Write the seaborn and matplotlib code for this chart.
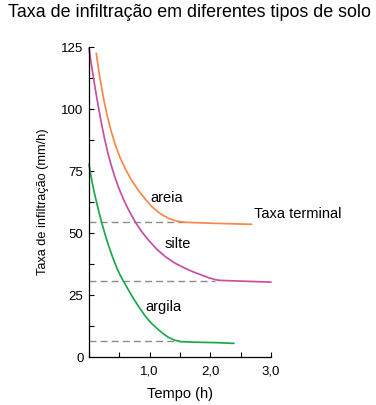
import pandas as pd
import seaborn as sns
import matplotlib.pyplot as plt
from matplotlib.ticker import MultipleLocator

# valores
areia_t = [0.12, 0.145, 0.17, 0.21, 0.255, 0.30, 0.36, 0.43, 0.51, 0.60, 0.70, 0.82, 0.93, 1.04,
           1.17, 1.31, 1.45, 1.59, 2.08, 2.68]
areia_v = [122.5, 118.1, 114.1, 108.2, 102.4, 97.3, 91.5, 85.8, 80.5, 75.8, 71.3, 67.0, 63.6, 60.5,
           57.9, 55.9, 54.8, 54.3, 53.9, 53.5]

silte_t = [0.0, 0.03, 0.063, 0.10, 0.145, 0.20, 0.255, 0.31, 0.36, 0.42, 0.48, 0.55, 0.62, 0.69,
           0.766, 0.87, 0.985, 1.12, 1.26, 1.42, 1.59, 1.73, 1.86, 1.97, 2.08, 2.15, 2.50, 3.0]
silte_v = [124.5, 119.4, 114.2, 108.6, 102.2, 94.9, 88.2, 82.4, 77.8, 73.0, 68.8, 64.6, 60.9, 57.6,
           54.3, 50.5, 47.0, 43.4, 40.4, 37.8, 35.7, 34.2, 33.0, 32.0, 31.2, 30.9, 30.6, 30.2]

argila_t = [0.0, 0.025, 0.053, 0.09, 0.135, 0.175, 0.217, 0.27, 0.327, 0.39, 0.46, 0.52, 0.59, 0.66,
            0.74, 0.83, 0.93, 1.04, 1.15, 1.23, 1.31, 1.41, 1.51, 1.70, 2.08, 2.39]
argila_v = [77.8, 74.0, 70.3, 66.0, 61.3, 57.4, 53.5, 49.0, 44.6, 40.2, 35.8, 32.7, 29.6, 26.6,
            23.3, 19.9, 16.4, 13.3, 10.9, 9.3, 7.9, 6.8, 6.2, 6.0, 5.8, 5.5]

solos = ['areia', 'silte', 'argila']
taxa_terminal = [54.3, 30.6, 6.3]
fim_tracejado = [1.58, 2.07, 1.50]
pos_rotulo = [(1.28, 64.3), (1.46, 45.4), (1.23, 20.0)]
cores = {'areia': '#f5894c', 'silte': '#c650a0', 'argila': '#1ba84b'}

df = pd.concat([
    pd.DataFrame({'Tempo': areia_t, 'Taxa': areia_v, 'solo': 'areia'}),
    pd.DataFrame({'Tempo': silte_t, 'Taxa': silte_v, 'solo': 'silte'}),
    pd.DataFrame({'Tempo': argila_t, 'Taxa': argila_v, 'solo': 'argila'}),
])

sns.set_theme(style='white', rc={'text.color': 'black', 'axes.labelcolor': 'black',
                                 'xtick.color': 'black', 'ytick.color': 'black'})
plt.rcParams['font.family'] = ['Liberation Sans', 'DejaVu Sans']

fig = plt.figure(figsize=(3.76, 4.05), dpi=100)
ax = fig.add_axes([89 / 376, 48 / 405, 182 / 376, 310 / 405])

for solo, y0, x1 in zip(solos, taxa_terminal, fim_tracejado):
    ax.plot([0, x1], [y0, y0], color='#8c8c8c', lw=1.0, ls=(0, (5, 3)), zorder=1)

sns.lineplot(data=df, x='Tempo', y='Taxa', hue='solo', palette=cores,
             sort=False, estimator=None, lw=1.25, legend=False, ax=ax, zorder=2)
for line in ax.lines:
    line.set_clip_on(False)

for solo, (x, y) in zip(solos, pos_rotulo):
    ax.text(x, y, solo, fontsize=10.5, ha='center', va='center')
ax.text(2.72, 57.7, 'Taxa terminal', fontsize=10.5, ha='left', va='center')

ax.set_xlim(0, 3)
ax.set_ylim(0, 125)
ax.xaxis.set_major_locator(MultipleLocator(1))
ax.xaxis.set_minor_locator(MultipleLocator(0.5))
ax.yaxis.set_major_locator(MultipleLocator(25))
ax.yaxis.set_minor_locator(MultipleLocator(12.5))
ax.set_xticks([1, 2, 3])
ax.set_xticklabels(['1,0', '2,0', '3,0'])
ax.tick_params(which='both', direction='in', length=3.5, width=0.8, color='black',
               bottom=True, left=True, labelsize=9.5)
ax.tick_params(axis='x', pad=6)
ax.tick_params(axis='y', pad=4)

for s in ['top', 'right']:
    ax.spines[s].set_visible(False)
for s in ['left', 'bottom']:
    ax.spines[s].set_color('black')
    ax.spines[s].set_linewidth(0.9)

ax.set_xlabel('Tempo (h)', fontsize=10.5, labelpad=7)
ax.set_ylabel('Taxa de infiltração (mm/h)', fontsize=9.2, labelpad=9)
fig.text(8 / 376, 0.99, 'Taxa de infiltração em diferentes tipos de solo',
         fontsize=12.9, ha='left', va='top')

fig.savefig('out.png', dpi=100)
